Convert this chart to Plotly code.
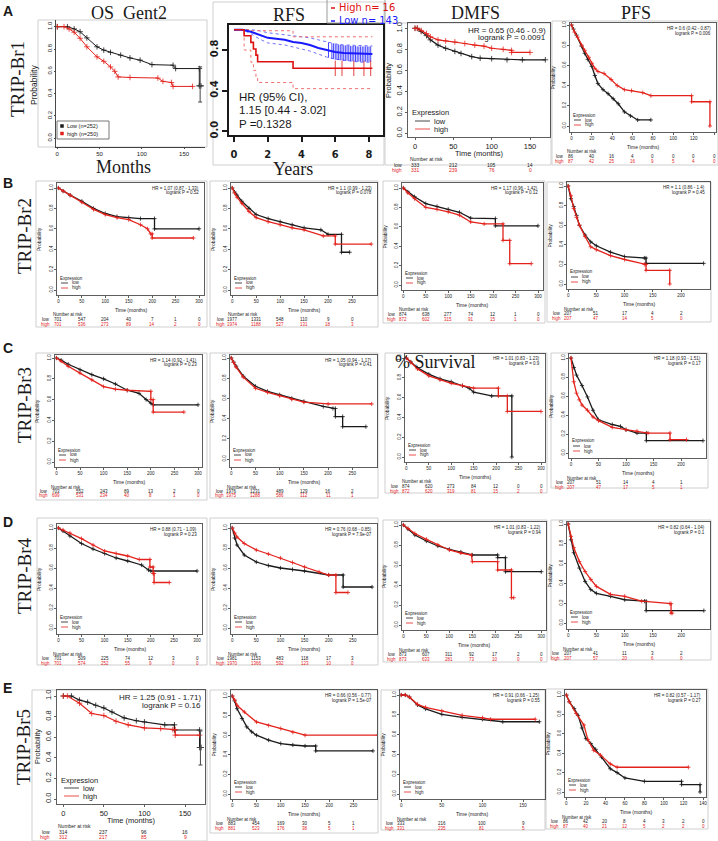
import plotly.graph_objects as go

W, H = 718, 841
SERIF = "Liberation Serif, Times New Roman, serif"
SANS = "Liberation Sans, Arial, sans-serif"
NARROW = "Liberation Sans Narrow, DejaVu Sans Condensed, Liberation Sans, sans-serif"
BLACK = "#1a1a1a"
RED = "#e3221c"
BLUE = "#1a1aff"
GREY = "#cfcfcf"

# ======================= DATA =======================
# ---- Row A : TRIP-Br1 ----
A1_low_t = [0, 12, 20, 27, 35, 47, 55, 63, 75, 86, 98, 112, 137, 140, 168, 168, 170]
A1_low_s = [1.0, 1.0, 0.98, 0.955, 0.9, 0.82, 0.79, 0.77, 0.745, 0.72, 0.70, 0.66, 0.655, 0.625, 0.625, 0.47, 0.47]
A1_high_t = [0, 8, 14, 20, 27, 35, 47, 55, 63, 68, 72, 86, 119, 125, 135, 137, 160]
A1_high_s = [1.0, 1.0, 0.98, 0.95, 0.896, 0.82, 0.73, 0.69, 0.64, 0.60, 0.55, 0.545, 0.54, 0.51, 0.50, 0.465, 0.465]
A1_bar = [169, 0.47, 0.17, 0.145]   # last point, +err, -err

A2_low_t = [0, 0.5, 1, 1.5, 2, 2.5, 3, 3.5, 4, 4.5, 5, 5.5, 6, 6.5, 7, 7.5, 8.2]
A2_low_s = [1, 1, 0.98, 0.95, 0.92, 0.91, 0.90, 0.88, 0.87, 0.85, 0.82, 0.80, 0.78, 0.77, 0.765, 0.76, 0.76]
A2_low_up = [1, 1, 1, 0.99, 0.97, 0.96, 0.95, 0.94, 0.93, 0.92, 0.90, 0.88, 0.86, 0.85, 0.845, 0.84, 0.84]
A2_low_lo = [1, 1, 0.96, 0.91, 0.87, 0.86, 0.85, 0.83, 0.81, 0.79, 0.76, 0.73, 0.71, 0.70, 0.69, 0.68, 0.68]
A2_low_cens_t = [5.6, 5.8, 5.9, 6.0, 6.1, 6.2, 6.3, 6.4, 6.5, 6.6, 6.7, 6.8, 6.9, 7.0, 7.1, 7.2, 7.3, 7.4, 7.5, 7.6, 7.7, 7.8, 7.9, 8.0, 8.1]
A2_low_cens_s = [0.80, 0.79, 0.79, 0.78, 0.78, 0.78, 0.775, 0.775, 0.77, 0.77, 0.77, 0.77, 0.765, 0.765, 0.765, 0.765, 0.76, 0.76, 0.76, 0.76, 0.76, 0.76, 0.76, 0.76, 0.76]
A2_high_t = [0, 0.6, 0.6, 1.0, 1.0, 1.15, 1.15, 1.3, 1.3, 1.4, 1.4, 3.5, 3.5, 8.2]
A2_high_s = [1, 1, 0.94, 0.94, 0.875, 0.875, 0.81, 0.81, 0.75, 0.75, 0.685, 0.685, 0.62, 0.62]
A2_high_up_t = [0, 1.0, 1.0, 3.5, 3.5, 8.2]
A2_high_up_s = [1.0, 1.0, 0.99, 0.99, 0.93, 0.93]
A2_high_lo_t = [0, 0.6, 0.6, 1.0, 1.0, 1.15, 1.15, 1.3, 1.3, 1.4, 1.4, 3.5, 3.5, 8.2]
A2_high_lo_s = [1, 1, 0.80, 0.80, 0.68, 0.68, 0.60, 0.60, 0.53, 0.53, 0.48, 0.48, 0.42, 0.42]
A2_high_cens_t = [6.0, 6.4, 7.1, 7.7, 8.1]
A2_high_cens_s = [0.62, 0.62, 0.62, 0.62, 0.62]

A3_low_t = [0, 3, 8, 15, 20, 30, 40, 52, 60, 74, 85, 100, 120, 140, 170]
A3_low_s = [1, 1, 0.97, 0.93, 0.89, 0.84, 0.81, 0.78, 0.76, 0.73, 0.715, 0.71, 0.70, 0.70, 0.70]
A3_high_t = [0, 3, 8, 15, 20, 30, 40, 52, 65, 78, 90, 100, 115, 126, 126, 150]
A3_high_s = [1, 1, 0.98, 0.95, 0.92, 0.89, 0.88, 0.87, 0.855, 0.84, 0.83, 0.81, 0.80, 0.79, 0.77, 0.77]
A3_risk_low = [333, 212, 105, 14]
A3_risk_high = [331, 239, 76, 0]

A4_low_t = [0, 2, 5, 10, 13, 16, 20, 23, 26, 31, 36, 41, 46, 52, 58, 65, 78]
A4_low_s = [1, 0.96, 0.90, 0.79, 0.72, 0.66, 0.59, 0.50, 0.42, 0.36, 0.32, 0.27, 0.22, 0.14, 0.10, 0.06, 0.06]
A4_high_t = [0, 3, 6, 10, 13, 17, 20, 23, 26, 32, 39, 45, 52, 59, 70, 78, 118, 118, 136, 136]
A4_high_s = [1, 0.93, 0.88, 0.80, 0.75, 0.68, 0.62, 0.57, 0.54, 0.52, 0.46, 0.40, 0.36, 0.35, 0.33, 0.30, 0.30, 0.24, 0.24, 0.0]
A4_risk_low = [86, 40, 16, 4, 0, 0, 0, 0]
A4_risk_high = [87, 42, 25, 16, 9, 5, 4, 0]

# ---- Row B : TRIP-Br2 ----
B1_low_t = [0, 10, 25, 50, 75, 100, 125, 150, 175, 205, 205, 300]
B1_low_s = [1, 0.97, 0.93, 0.87, 0.80, 0.75, 0.72, 0.71, 0.70, 0.70, 0.60, 0.60]
B1_high_t = [0, 10, 25, 50, 75, 100, 125, 150, 175, 190, 197, 200, 200, 288]
B1_high_s = [1, 0.97, 0.93, 0.86, 0.79, 0.74, 0.71, 0.69, 0.64, 0.60, 0.55, 0.55, 0.51, 0.51]
B1_risk_low = [701, 547, 204, 40, 7, 1, 0]
B1_risk_high = [701, 536, 273, 89, 14, 2, 0]

B2_low_t = [0, 5, 10, 20, 35, 50, 75, 100, 125, 150, 185, 200, 228, 228, 245]
B2_low_s = [1, 0.96, 0.93, 0.87, 0.80, 0.74, 0.70, 0.67, 0.64, 0.61, 0.59, 0.545, 0.545, 0.37, 0.37]
B2_high_t = [0, 5, 10, 20, 35, 50, 75, 100, 125, 150, 190, 215, 215, 290]
B2_high_s = [1, 0.95, 0.91, 0.85, 0.77, 0.71, 0.67, 0.64, 0.61, 0.59, 0.53, 0.53, 0.45, 0.45]
B2_risk_low = [1977, 1331, 548, 110, 9, 0]
B2_risk_high = [1974, 1188, 527, 131, 18, 3]

B3_low_t = [0, 10, 25, 50, 75, 100, 125, 150, 205, 205, 300]
B3_low_s = [1, 0.96, 0.91, 0.84, 0.81, 0.78, 0.75, 0.69, 0.685, 0.61, 0.61]
B3_high_t = [0, 10, 25, 50, 75, 100, 125, 150, 180, 222, 222, 237, 237, 285]
B3_high_s = [1, 0.95, 0.89, 0.80, 0.78, 0.755, 0.72, 0.65, 0.63, 0.63, 0.46, 0.46, 0.22, 0.22]
B3_risk_low = [874, 638, 277, 74, 12, 1, 0]
B3_risk_high = [872, 602, 315, 91, 15, 1, 0]

B4_low_t = [0, 5, 10, 15, 20, 30, 40, 50, 75, 100, 135, 138, 138, 240]
B4_low_s = [1, 0.87, 0.79, 0.70, 0.60, 0.50, 0.43, 0.39, 0.325, 0.28, 0.265, 0.265, 0.21, 0.21]
B4_high_t = [0, 5, 10, 15, 20, 30, 40, 50, 75, 100, 135, 138, 138, 180, 180]
B4_high_s = [1, 0.90, 0.77, 0.68, 0.60, 0.485, 0.38, 0.35, 0.29, 0.25, 0.20, 0.20, 0.14, 0.14, 0.0]
B4_risk_low = [207, 51, 17, 4, 2]
B4_risk_high = [207, 47, 14, 5, 0]

# ---- Row C : TRIP-Br3 ----
C1_low_t = [0, 10, 25, 50, 75, 100, 125, 150, 175, 190, 200, 205, 300]
C1_low_s = [1, 0.98, 0.94, 0.887, 0.84, 0.80, 0.75, 0.69, 0.66, 0.60, 0.565, 0.55, 0.55]
C1_high_t = [0, 10, 25, 50, 75, 100, 125, 150, 200, 200, 205, 205, 270]
C1_high_s = [1, 0.97, 0.92, 0.855, 0.79, 0.725, 0.70, 0.69, 0.68, 0.60, 0.60, 0.48, 0.48]
C1_risk_low = [703, 552, 243, 89, 13, 2, 0]
C1_risk_high = [699, 531, 234, 40, 8, 1, 0]

C2_low_t = [0, 5, 10, 25, 50, 75, 100, 125, 150, 190, 210, 215, 215, 230, 230, 278]
C2_low_s = [1, 0.96, 0.92, 0.82, 0.72, 0.67, 0.636, 0.60, 0.57, 0.52, 0.50, 0.50, 0.42, 0.42, 0.32, 0.32]
C2_high_t = [0, 5, 10, 25, 50, 75, 100, 125, 150, 200, 290]
C2_high_s = [1, 0.955, 0.91, 0.81, 0.70, 0.66, 0.626, 0.59, 0.563, 0.545, 0.545]
C2_risk_low = [1976, 1231, 489, 129, 16, 2]
C2_risk_high = [1975, 1288, 586, 112, 11, 1]

C3_low_t = [0, 10, 25, 50, 75, 100, 125, 140, 150, 190, 235, 235]
C3_low_s = [1, 0.96, 0.90, 0.837, 0.79, 0.76, 0.72, 0.695, 0.655, 0.617, 0.617, 0.0]
C3_high_t = [0, 10, 25, 50, 75, 100, 125, 150, 205, 205, 225, 225, 300]
C3_high_s = [1, 0.955, 0.89, 0.82, 0.78, 0.745, 0.72, 0.695, 0.695, 0.617, 0.617, 0.46, 0.46]
C3_risk_low = [874, 620, 273, 84, 12, 0, 0]
C3_risk_high = [872, 620, 319, 81, 15, 2, 0]

C4_low_t = [0, 5, 10, 20, 30, 40, 50, 75, 90, 100, 120, 137, 137, 240]
C4_low_s = [1, 0.90, 0.82, 0.71, 0.59, 0.45, 0.35, 0.30, 0.28, 0.245, 0.21, 0.21, 0.13, 0.13]
C4_high_t = [0, 5, 10, 15, 20, 30, 40, 50, 75, 100, 120, 140, 180, 180, 210]
C4_high_s = [1, 0.75, 0.63, 0.56, 0.505, 0.45, 0.38, 0.34, 0.27, 0.245, 0.23, 0.21, 0.21, 0.14, 0.14]
C4_risk_low = [207, 51, 14, 4, 1]
C4_risk_high = [207, 47, 17, 5, 1]

# ---- Row D : TRIP-Br4 ----
D1_low_t = [0, 10, 25, 50, 75, 100, 125, 150, 180, 195, 200, 300]
D1_low_s = [1, 0.97, 0.92, 0.845, 0.79, 0.745, 0.70, 0.67, 0.63, 0.58, 0.57, 0.57]
D1_high_t = [0, 10, 25, 50, 75, 100, 125, 150, 175, 198, 198, 205, 205, 207, 207, 240]
D1_high_s = [1, 0.98, 0.95, 0.894, 0.83, 0.77, 0.745, 0.72, 0.685, 0.685, 0.61, 0.61, 0.545, 0.545, 0.455, 0.455]
D1_risk_low = [701, 509, 225, 74, 12, 3, 0]
D1_risk_high = [701, 574, 252, 55, 9, 0, 0]

D2_low_t = [0, 5, 10, 25, 50, 75, 100, 125, 150, 200, 230, 230, 290]
D2_low_s = [1, 0.90, 0.83, 0.73, 0.66, 0.625, 0.60, 0.585, 0.57, 0.53, 0.53, 0.41, 0.41]
D2_high_t = [0, 5, 10, 25, 50, 75, 100, 125, 150, 180, 200, 215, 215, 240]
D2_high_s = [1, 0.95, 0.91, 0.845, 0.78, 0.74, 0.70, 0.655, 0.61, 0.56, 0.53, 0.53, 0.355, 0.355]
D2_risk_low = [1981, 1153, 483, 118, 17, 3]
D2_risk_high = [1970, 1366, 592, 123, 10, 0]

D3_low_t = [0, 10, 25, 50, 75, 100, 125, 150, 205, 205, 222, 222, 300]
D3_low_s = [1, 0.96, 0.90, 0.84, 0.79, 0.757, 0.73, 0.70, 0.70, 0.673, 0.673, 0.533, 0.533]
D3_high_t = [0, 10, 25, 50, 75, 100, 125, 148, 150, 205, 205, 235, 235, 240]
D3_high_s = [1, 0.965, 0.915, 0.857, 0.80, 0.75, 0.72, 0.70, 0.633, 0.633, 0.55, 0.55, 0.273, 0.273]
D3_risk_low = [873, 607, 311, 92, 17, 2, 0]
D3_risk_high = [873, 633, 281, 73, 10, 0, 0]

D4_low_t = [0, 5, 10, 20, 30, 40, 50, 75, 100, 135, 138, 138, 240]
D4_low_s = [1, 0.84, 0.71, 0.555, 0.42, 0.337, 0.30, 0.27, 0.235, 0.22, 0.22, 0.125, 0.125]
D4_high_t = [0, 5, 10, 20, 30, 40, 50, 75, 100, 130, 180, 182, 182, 184]
D4_high_s = [1, 0.875, 0.76, 0.62, 0.52, 0.44, 0.37, 0.29, 0.27, 0.22, 0.195, 0.195, 0.10, 0.10]
D4_risk_low = [207, 41, 11, 3, 2]
D4_risk_high = [207, 57, 20, 6, 0]

# ---- Row E : TRIP-Br5 ----
E1_low_t = [0, 10, 20, 30, 40, 50, 60, 75, 90, 100, 125, 137, 137, 168, 168, 170]
E1_low_s = [1, 1, 0.96, 0.94, 0.91, 0.884, 0.845, 0.787, 0.76, 0.748, 0.72, 0.72, 0.67, 0.67, 0.50, 0.50]
E1_high_t = [0, 5, 20, 35, 50, 65, 80, 100, 120, 135, 138, 138, 168]
E1_high_s = [1, 1, 0.93, 0.83, 0.81, 0.755, 0.72, 0.69, 0.684, 0.674, 0.674, 0.62, 0.62]
E1_bar = [169, 0.50, 0.16, 0.17]
E1_risk_low = [314, 237, 96, 16]
E1_risk_high = [312, 217, 85, 9]

E2_low_t = [0, 5, 10, 20, 30, 40, 50, 75, 100, 125, 150, 172, 172, 290]
E2_low_s = [1, 0.95, 0.87, 0.77, 0.685, 0.635, 0.60, 0.55, 0.515, 0.50, 0.49, 0.49, 0.44, 0.44]
E2_high_t = [0, 5, 10, 25, 50, 75, 100, 125, 150, 300]
E2_high_s = [1, 0.96, 0.905, 0.837, 0.735, 0.70, 0.668, 0.63, 0.60, 0.60]
E2_risk_low = [883, 454, 169, 30, 5, 1]
E2_risk_high = [881, 523, 176, 38, 5, 1]

E3_low_t = [0, 5, 10, 20, 30, 50, 75, 100, 125, 170]
E3_low_s = [1, 1, 0.98, 0.90, 0.86, 0.805, 0.775, 0.755, 0.73, 0.73]
E3_high_t = [0, 5, 10, 20, 30, 50, 75, 100, 110, 165]
E3_high_s = [1, 1, 0.98, 0.906, 0.876, 0.84, 0.795, 0.77, 0.755, 0.755]
E3_risk_low = [333, 216, 100, 9]
E3_risk_high = [331, 235, 81, 5]

E4_low_t = [0, 3, 8, 12, 16, 20, 25, 30, 36, 45, 52, 60, 80, 118, 118, 137, 137]
E4_low_s = [1, 0.93, 0.86, 0.79, 0.66, 0.55, 0.50, 0.44, 0.36, 0.24, 0.20, 0.145, 0.11, 0.11, 0.076, 0.076, 0.0]
E4_high_t = [0, 3, 10, 18, 22, 28, 35, 45, 52, 125]
E4_high_s = [1, 0.93, 0.81, 0.69, 0.54, 0.43, 0.38, 0.29, 0.255, 0.255]
E4_risk_low = [86, 42, 20, 8, 4, 3, 2, 0]
E4_risk_high = [87, 40, 21, 12, 5, 2, 2, 0]

HR_TEXT = {
    'A3': ("HR = 0.65 (0.46 - 0.9)", "logrank P = 0.0091"),
    'A4': ("HR = 0.6 (0.42 - 0.87)", "logrank P = 0.006"),
    'B1': ("HR = 1.07 (0.87 - 1.33)", "logrank P = 0.52"),
    'B2': ("HR = 1.1 (0.99 - 1.23)", "logrank P = 0.078"),
    'B3': ("HR = 1.17 (0.96 - 1.42)", "logrank P = 0.12"),
    'B4': ("HR = 1.1 (0.86 - 1.4)", "logrank P = 0.45"),
    'C1': ("HR = 1.14 (0.92 - 1.41)", "logrank P = 0.23"),
    'C2': ("HR = 1.05 (0.94 - 1.17)", "logrank P = 0.41"),
    'C3': ("HR = 1.01 (0.83 - 1.23)", "logrank P = 0.9"),
    'C4': ("HR = 1.18 (0.93 - 1.51)", "logrank P = 0.17"),
    'D1': ("HR = 0.88 (0.71 - 1.09)", "logrank P = 0.23"),
    'D2': ("HR = 0.76 (0.68 - 0.85)", "logrank P = 7.9e-07"),
    'D3': ("HR = 1.01 (0.83 - 1.22)", "logrank P = 0.94"),
    'D4': ("HR = 0.82 (0.64 - 1.04)", "logrank P = 0.1"),
    'E1': ("HR = 1.25 (0.91 - 1.71)", "logrank P = 0.16"),
    'E2': ("HR = 0.66 (0.56 - 0.77)", "logrank P = 1.5e-07"),
    'E3': ("HR = 0.91 (0.66 - 1.25)", "logrank P = 0.55"),
    'E4': ("HR = 0.82 (0.57 - 1.17)", "logrank P = 0.27"),
}

TICKS_300 = [0, 50, 100, 150, 200, 250, 300]
TICKS_250 = [0, 50, 100, 150, 200, 250]
TICKS_200 = [0, 50, 100, 150, 200]
TICKS_150 = [0, 50, 100, 150]
TICKS_140 = [0, 20, 40, 60, 80, 100, 120, 140]
Y_TICKS = [0.0, 0.2, 0.4, 0.6, 0.8, 1.0]

# ======================= BUILD =======================
fig = go.Figure()
ANN, SHP, LAY = [], [], {}
N = [0]


def fx(p):
    return p / W


def fy(p):
    return 1 - p / H


def txt(x, y, s, size, family=SANS, color=BLACK, xanchor='center', angle=0, xref='paper'):
    ANN.append(dict(x=fx(x) if xref == 'paper' else x, y=fy(y), xref=xref, yref='paper', text=s,
                    showarrow=False, xanchor=xanchor, yanchor='middle', textangle=angle,
                    borderpad=0, font=dict(family=family, size=size, color=color)))


def rect(x0, y0, x1, y1, color=GREY, width=1, fill='rgba(0,0,0,0)', layer='below'):
    SHP.append(dict(type='rect', xref='paper', yref='paper', x0=fx(x0), x1=fx(x1), y0=fy(y1), y1=fy(y0),
                    line=dict(color=color, width=width), fillcolor=fill, layer=layer))


def seg(x0, y0, x1, y1, color, width=1):
    SHP.append(dict(type='line', xref='paper', yref='paper', x0=fx(x0), x1=fx(x1), y0=fy(y0), y1=fy(y1),
                    line=dict(color=color, width=width)))


def axes(box, xcal, ycal, xticks, yticks, tickfs, ticklen, family=SANS, lw=0.7, mirror=True,
         xstand=0, ystand=0, bold=False):
    N[0] += 1
    n = N[0]
    sfx = '' if n == 1 else str(n)
    L, R, T, B = box
    pa, va, pb, vb = xcal
    k = (vb - va) / (pb - pa)
    xr = [min(va + (L - pa) * k, va - 0.01 * (vb - va)), va + (R - pa) * k]
    p1, p0 = ycal
    yr = [(p0 - B) / (p0 - p1), (p0 - T) / (p0 - p1)]
    tf = dict(family=family, size=tickfs, color=BLACK, weight='bold' if bold else 'normal')
    common = dict(tickmode='array', ticks='outside', ticklen=ticklen, tickwidth=lw, tickcolor=BLACK,
                  showline=True, linecolor=BLACK, linewidth=lw, mirror=mirror, showgrid=False,
                  zeroline=False, tickfont=tf, fixedrange=True, automargin=False)
    LAY['xaxis' + sfx] = dict(domain=[fx(L), fx(R)], range=xr, anchor='y' + sfx, tickvals=xticks,
                              ticktext=[str(v) for v in xticks], ticklabelstandoff=xstand, **common)
    LAY['yaxis' + sfx] = dict(domain=[fy(B), fy(T)], range=yr, anchor='x' + sfx, tickvals=yticks,
                              ticktext=[f'{v:.1f}' for v in yticks], tickangle=-90,
                              ticklabelstandoff=ystand, **common)

    def tx(v):
        return pa + (v - va) / k
    return 'x' + sfx, 'y' + sfx, tx


def curve(xr, yr, t, s, color, lw, ms, symbol='cross-thin', dash='solid', mode='lines+markers'):
    fig.add_trace(go.Scatter(x=t, y=s, xaxis=xr, yaxis=yr, mode=mode,
                             line=dict(color=color, width=lw, dash=dash),
                             marker=dict(symbol=symbol, size=ms, color=color,
                                         line=dict(color=color, width=0.8)),
                             hoverinfo='skip', showlegend=False))


SMALL = dict(fs_tick=4.5, fs_lab=5, fs_hr=4.5, fs_leg=4.5, fs_risk=4.5, ticklen=2,
             hr_dx=4, hr_dy1=5, hr_dy2=10, prob_dx=18, xl_dy=15,
             leg_dx=2, leg_dy=(17, 12, 7), samp=(4, 11), lab_dx=14,
             nar_dx=11, nar_dy=20, low_dy=24.5, high_dy=29, row_dx=6, lw=1.3, ms=3)
BIG = dict(fs_tick=7.5, fs_lab=7.5, fs_hr=8, fs_leg=7.5, fs_risk=5, ticklen=2,
           hr_dx=3, hr_dy1=7, hr_dy2=15, prob_dx=20, xl_dy=16,
           leg_dx=3, leg_dy=(24, 16, 8), samp=(7, 22), lab_dx=25,
           nar_dx=11, nar_dy=22, low_dy=27.5, high_dy=33, row_dx=12, lw=1.2, ms=4)


def km(key, box, xcal, ycal, xticks, low, high, risk, frame, st=SMALL):
    L, R, T, B = box
    rect(*frame)
    xr, yr, tx = axes(box, xcal, ycal, xticks, Y_TICKS, st['fs_tick'], st['ticklen'])
    curve(xr, yr, low[0], low[1], BLACK, st['lw'], st['ms'])
    curve(xr, yr, high[0], high[1], RED, st['lw'], st['ms'])
    hr1, hr2 = HR_TEXT[key]
    txt(R - st['hr_dx'], T + st['hr_dy1'], hr1, st['fs_hr'], xanchor='right')
    txt(R - st['hr_dx'], T + st['hr_dy2'], hr2, st['fs_hr'], xanchor='right')
    txt(L - st['prob_dx'], (T + B) / 2, 'Probability', st['fs_lab'], angle=-90)
    txt((L + R) / 2, B + st['xl_dy'], 'Time (months)', st['fs_lab'])
    d0, d1, d2 = st['leg_dy']
    s0, s1 = st['samp']
    txt(L + st['leg_dx'], B - d0, 'Expression', st['fs_leg'], xanchor='left')
    seg(L + s0, B - d1, L + s1, B - d1, BLACK, 0.8)
    txt(L + st['lab_dx'], B - d1, 'low', st['fs_leg'], xanchor='left')
    seg(L + s0, B - d2, L + s1, B - d2, RED, 0.8)
    txt(L + st['lab_dx'], B - d2, 'high', st['fs_leg'], xanchor='left')
    x0 = tx(0)
    txt(x0 + st['nar_dx'], B + st['nar_dy'], 'Number at risk', st['fs_risk'])
    txt(x0 - st['row_dx'], B + st['low_dy'], 'low', st['fs_risk'], xanchor='right')
    txt(x0 - st['row_dx'], B + st['high_dy'], 'high', st['fs_risk'], color=RED, xanchor='right')
    for v, a, b in zip(xticks, risk[0], risk[1]):
        txt(v, B + st['low_dy'], str(a), st['fs_risk'], xref=xr)
        txt(v, B + st['high_dy'], str(b), st['fs_risk'], color=RED, xref=xr)


# ---------------- A1 : OS Gent2 ----------------
rect(38, 20, 207, 147)
xr, yr, tx = axes((56, 205, 20, 147), (56.7, 0, 184, 150), (26.7, 138.3), TICKS_150, Y_TICKS,
                  6, 1, lw=0.8, mirror=False)
curve(xr, yr, A1_low_t, A1_low_s, BLACK, 1.0, 4)
curve(xr, yr, A1_high_t, A1_high_s, RED, 1.0, 4)
fig.add_trace(go.Scatter(x=[A1_bar[0]], y=[A1_bar[1]], xaxis=xr, yaxis=yr, mode='markers',
                         marker=dict(symbol='line-ew', size=5, line=dict(color='#444', width=1)),
                         error_y=dict(type='data', symmetric=False, array=[A1_bar[2]],
                                      arrayminus=[A1_bar[3]], color='#444', thickness=1, width=2),
                         hoverinfo='skip', showlegend=False))
rect(57, 121, 109, 139, color='#555', width=0.8, layer='above')
rect(60.5, 124.5, 63.5, 127.5, color=BLACK, width=0.5, fill=BLACK, layer='above')
rect(60.5, 132, 63.5, 135, color=RED, width=0.5, fill=RED, layer='above')
txt(66, 126, 'Low (n=252)', 5.5, xanchor='left')
txt(66, 133.5, 'high (n=250)', 5.5, xanchor='left')
txt(34, 85, 'Probability', 8.5, angle=-90)
txt(129, 13, 'OS  Gent2', 18, family=SERIF)
txt(123, 167, 'Months', 18, family=SERIF)

# ---------------- A2 : RFS ----------------
rect(213, 2, 384, 165)
xr, yr, tx = axes((229, 383, 25, 135), (234, 0, 369, 8), (29.7, 131.3), [0, 2, 4, 6, 8],
                  [0.0, 0.4, 0.8], 11, 5, family=NARROW, lw=2, mirror=True, xstand=3, bold=True)
curve(xr, yr, A2_low_t, A2_low_up, '#6f6fff', 1, 0, dash='dot', mode='lines')
curve(xr, yr, A2_low_t, A2_low_lo, '#6f6fff', 1, 0, dash='dot', mode='lines')
curve(xr, yr, A2_high_up_t, A2_high_up_s, '#f07070', 1, 0, dash='dot', mode='lines')
curve(xr, yr, A2_high_lo_t, A2_high_lo_s, '#f07070', 1, 0, dash='dot', mode='lines')
curve(xr, yr, A2_low_t, A2_low_s, BLUE, 2, 0, mode='lines')
curve(xr, yr, A2_high_t, A2_high_s, '#dd1111', 1.6, 0, mode='lines')
curve(xr, yr, A2_low_cens_t, A2_low_cens_s, BLUE, 0, 11, symbol='line-ns', mode='markers')
curve(xr, yr, A2_high_cens_t, A2_high_cens_s, '#dd1111', 0, 11, symbol='line-ns', mode='markers')
txt(238, 97, 'HR (95% CI),', 11.5, xanchor='left')
txt(238, 110, '1.15 [0.44 - 3.02]', 11.5, xanchor='left')
txt(238, 124, 'P =0.1328', 11.5, xanchor='left')
rect(327, -6, 385, 23, color='#999999', width=1, layer='above')
seg(331, 8, 335, 8, '#dd1111', 1.5)
txt(338, 8, 'High n= 16', 11, family=NARROW, color='#dd1111', xanchor='left')
seg(331, 21, 335, 21, BLUE, 1.5)
txt(338, 21, 'Low n= 143', 11, family=NARROW, color=BLUE, xanchor='left')
txt(289, 15, 'RFS', 18, family=SERIF)
txt(293, 169, 'Years', 18, family=SERIF)

# ---------------- A3 : DMFS, A4 : PFS ----------------
km('A3', (408, 550, 23, 137), (415, 0, 530, 150), (28.3, 133.3), TICKS_150,
   (A3_low_t, A3_low_s), (A3_high_t, A3_high_s), (A3_risk_low, A3_risk_high), (385, 23, 551, 165), BIG)
txt(475, 13, 'DMFS', 18, family=SERIF)
km('A4', (570, 716, 23, 132), (571.3, 0, 714, 140), (25, 126), TICKS_140,
   (A4_low_t, A4_low_s), (A4_high_t, A4_high_s), (A4_risk_low, A4_risk_high), (552, 21, 718, 165))
txt(636, 13, 'PFS', 18, family=SERIF)

# ---------------- Row B ----------------
km('B1', (57, 204, 183, 295), (57, 0, 199, 300), (188, 290), TICKS_300,
   (B1_low_t, B1_low_s), (B1_high_t, B1_high_s), (B1_risk_low, B1_risk_high), (36, 181, 207, 327))
km('B2', (231, 377, 183, 295), (232, 0, 352, 250), (188, 290), TICKS_250,
   (B2_low_t, B2_low_s), (B2_high_t, B2_high_s), (B2_risk_low, B2_risk_high), (210, 181, 378, 327))
km('B3', (402, 543, 183, 290), (403, 0, 538, 300), (188, 285), TICKS_300,
   (B3_low_t, B3_low_s), (B3_high_t, B3_high_s), (B3_risk_low, B3_risk_high), (383, 181, 545, 323))
km('B4', (567, 710, 182, 289), (568, 0, 681, 200), (186, 284), TICKS_200,
   (B4_low_t, B4_low_s), (B4_high_t, B4_high_s), (B4_risk_low, B4_risk_high), (547, 182, 711, 322))

# ---------------- Row C ----------------
km('C1', (55, 202, 355, 467), (55, 0, 198, 300), (358, 462), TICKS_300,
   (C1_low_t, C1_low_s), (C1_high_t, C1_high_s), (C1_risk_low, C1_risk_high), (36, 353, 207, 500))
km('C2', (230, 377, 355, 467), (231, 0, 352.3, 250), (358, 459), TICKS_250,
   (C2_low_t, C2_low_s), (C2_high_t, C2_high_s), (C2_risk_low, C2_risk_high), (210, 353, 378, 498))
km('C3', (405, 545, 354, 462), (406, 0, 541, 300), (358, 457), TICKS_300,
   (C3_low_t, C3_low_s), (C3_high_t, C3_high_s), (C3_risk_low, C3_risk_high), (385, 353, 547, 493))
km('C4', (569, 706, 354, 458), (571, 0, 681, 200), (358, 453), TICKS_200,
   (C4_low_t, C4_low_s), (C4_high_t, C4_high_s), (C4_risk_low, C4_risk_high), (551, 353, 708, 488))
txt(394, 362, '% Survival', 18, family=SERIF, xanchor='left')

# ---------------- Row D ----------------
km('D1', (57, 202, 524, 634), (57, 0, 197, 300), (528, 628), TICKS_300,
   (D1_low_t, D1_low_s), (D1_high_t, D1_high_s), (D1_risk_low, D1_risk_high), (37, 518, 207, 665))
km('D2', (231, 377, 524, 634), (231.7, 0, 352.7, 250), (528, 628), TICKS_250,
   (D2_low_t, D2_low_s), (D2_high_t, D2_high_s), (D2_risk_low, D2_risk_high), (210, 518, 378, 665))
km('D3', (402, 546, 522, 630), (403, 0, 541.3, 300), (525, 625), TICKS_300,
   (D3_low_t, D3_low_s), (D3_high_t, D3_high_s), (D3_risk_low, D3_risk_high), (383, 520, 547, 662))
km('D4', (567, 710, 522, 629), (567, 0, 681, 200), (524, 623), TICKS_200,
   (D4_low_t, D4_low_s), (D4_high_t, D4_high_s), (D4_risk_low, D4_risk_high), (551, 520, 711, 660))

# ---------------- Row E ----------------
km('E1', (57, 205, 690, 804), (63.3, 0, 185, 150), (696, 799), TICKS_150,
   (E1_low_t, E1_low_s), (E1_high_t, E1_high_s), (E1_risk_low, E1_risk_high), (32, 690, 207, 841), BIG)
fig.add_trace(go.Scatter(x=[E1_bar[0]], y=[E1_bar[1]], xaxis='x17', yaxis='y17', mode='markers',
                         marker=dict(symbol='line-ew', size=5, line=dict(color='#444', width=1)),
                         error_y=dict(type='data', symmetric=False, array=[E1_bar[2]],
                                      arrayminus=[E1_bar[3]], color='#444', thickness=1, width=2),
                         hoverinfo='skip', showlegend=False))
km('E2', (231, 377, 690, 799), (230.7, 0, 353.3, 250), (696, 794), TICKS_250,
   (E2_low_t, E2_low_s), (E2_high_t, E2_high_s), (E2_risk_low, E2_risk_high), (210, 690, 378, 833))
km('E3', (400, 545, 690, 799), (400.7, 0, 523, 150), (695, 794), TICKS_150,
   (E3_low_t, E3_low_s), (E3_high_t, E3_high_s), (E3_risk_low, E3_risk_high), (381, 690, 545, 830))
km('E4', (565, 706, 690, 797), (566.3, 0, 703, 140), (695, 792), TICKS_140,
   (E4_low_t, E4_low_s), (E4_high_t, E4_high_s), (E4_risk_low, E4_risk_high), (546, 689, 708, 829))

# ---------------- panel letters & row labels ----------------
for letter, yy in (('A', 11), ('B', 183), ('C', 348), ('D', 522), ('E', 688)):
    txt(2, yy, '<b>' + letter + '</b>', 14, xanchor='left')
for label, xx, yy in (('TRIP-Br1', 17, 79), ('TRIP-Br2', 24, 236), ('TRIP-Br3', 24, 405),
                      ('TRIP-Br4', 24, 576), ('TRIP-Br5', 23, 747)):
    txt(xx, yy, label, 19, family=SERIF, angle=-90)

fig.update_layout(width=W, height=H, margin=dict(l=0, r=0, t=0, b=0, autoexpand=False),
                  paper_bgcolor='white', plot_bgcolor='white', showlegend=False,
                  annotations=ANN, shapes=SHP, **LAY)
fig.write_html("out.html", config={'displayModeBar': False, 'staticPlot': True},
               post_script="document.body.style.margin='0px';document.body.style.padding='0px';")
